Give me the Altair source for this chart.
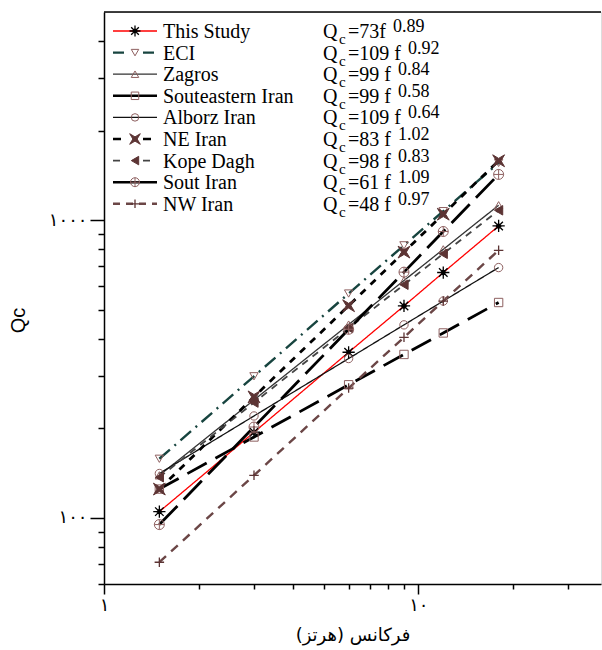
import altair as alt
import pandas as pd

# ---------------- data ----------------
freqs = [1.5, 3, 6, 9, 12, 18]
names = ["This Study", "ECI", "Zagros", "Souteastern Iran", "Alborz Iran",
         "NE Iran", "Kope Dagh", "Sout Iran", "NW Iran"]
coefs = ["73", "109", "99", "99", "109", "83", "98", "61", "48"]
exps = ["0.89", "0.92", "0.84", "0.58", "0.64", "1.02", "0.83", "1.09", "0.97"]

q_this_study = [105, 194, 360, 515, 667, 956]
q_eci = [158, 299, 567, 823, 1072, 1557]
q_zagros = [139, 249, 446, 627, 798, 1122]
q_southeast = [125, 187, 280, 354, 418, 529]
q_alborz = [141, 220, 343, 445, 535, 693]
q_ne_iran = [125, 255, 516, 781, 1047, 1583]
q_kope_dagh = [137, 244, 434, 607, 771, 1079]
q_sout_iran = [95, 202, 430, 669, 916, 1424]
q_nw_iran = [71, 139, 273, 404, 535, 792]
series_values = [q_this_study, q_eci, q_zagros, q_southeast, q_alborz,
                 q_ne_iran, q_kope_dagh, q_sout_iran, q_nw_iran]

x_tick_labels = {1: "۱", 10: "۱۰"}
y_tick_labels = {100: "۱۰۰", 1000: "۱۰۰۰"}
x_title = "فرکانس (هرتز)"
y_title = "Qc"

# ---------------- styles ----------------
W, H = 497, 572
OPEN = "#8e6060"
FILLED = "#5c3434"
ASTERISK = ("M0,-1L0,1M-1,0L1,0M-0.7,-0.7L0.7,0.7M-0.7,0.7L0.7,-0.7"
            "M0,-0.45L0.15,-0.15L0.45,0L0.15,0.15L0,0.45L-0.15,0.15L-0.45,0L-0.15,-0.15Z")
XSHAPE = "M-1,-1L0,-0.4L1,-1L0.4,0L1,1L0,0.4L-1,1L-0.4,0Z"
OPLUS = "M-1,0A1,1,0,1,1,1,0A1,1,0,1,1,-1,0M0,-1L0,1M-1,0L1,0"
PLUS = "M0,-1L0,1M-1,0L1,0"

styles = [
    dict(line="#ff0000", w=1.3, dash=[1, 0], ldash=[1, 0], shape=ASTERISK, fill="#000000", stroke="#000000", size=150, sw=1.3),
    dict(line="#17443f", w=2.4, dash=[14, 6, 2, 6], ldash=[11, 19], shape="triangle-down", fill="transparent", stroke=OPEN, size=70, sw=1),
    dict(line="#333333", w=1.3, dash=[1, 0], ldash=[1, 0], shape="triangle-up", fill="transparent", stroke=OPEN, size=70, sw=1),
    dict(line="#000000", w=2.8, dash=[22, 10], ldash=[1, 0], shape="square", fill="transparent", stroke=OPEN, size=70, sw=1),
    dict(line="#111111", w=1.3, dash=[1, 0], ldash=[1, 0], shape="circle", fill="transparent", stroke=OPEN, size=70, sw=1),
    dict(line="#000000", w=2.8, dash=[7, 7], ldash=[8, 22], shape=XSHAPE, fill=FILLED, stroke=FILLED, size=140, sw=1),
    dict(line="#444444", w=1.8, dash=[7, 6], ldash=[7, 23], shape="triangle-left", fill=FILLED, stroke=FILLED, size=90, sw=1),
    dict(line="#000000", w=2.8, dash=[26, 9], ldash=[1, 0], shape=OPLUS, fill="transparent", stroke=OPEN, size=100, sw=1),
    dict(line="#6b4646", w=2.4, dash=[9, 7], ldash=[7, 6], shape=PLUS, fill="transparent", stroke=FILLED, size=90, sw=1.3),
]

# ---------------- axes ----------------
x_vals = [1, 2, 3, 4, 5, 6, 7, 8, 9, 10, 20, 30]
y_vals = [60, 70, 80, 90, 100, 200, 300, 400, 500, 600, 700, 800, 900, 1000, 2000, 3000, 4000]


def label_expr(mapping):
    expr = "''"
    for k, v in mapping.items():
        expr = f"datum.value == {k} ? '{v}' : ({expr})"
    return expr


def major_test(mapping):
    return " || ".join(f"datum.value == {k}" for k in mapping)


x_axis = alt.Axis(
    values=x_vals, labelExpr=label_expr(x_tick_labels),
    tickSize={"condition": {"test": major_test(x_tick_labels), "value": 10}, "value": 5},
    labelFont="DejaVu Sans", labelFontSize=18, labelPadding=2, labelOverlap=False,
    labelFlush=False, labelColor="black",
    title=x_title, titleFont="DejaVu Sans", titleFontSize=18, titleFontWeight="normal",
    titleColor="black", titleY=51, titleBaseline="middle",
    domainColor="black", domainWidth=1.5, tickColor="black", tickWidth=1.5, grid=False,
)
y_axis = alt.Axis(
    values=y_vals, labelExpr=label_expr(y_tick_labels),
    tickSize={"condition": {"test": major_test(y_tick_labels), "value": 14}, "value": 6},
    labelFont="DejaVu Sans", labelFontSize=18, labelPadding=3, labelOverlap=False,
    labelFlush=False, labelColor="black",
    title=y_title, titleFont="Liberation Sans", titleFontSize=20, titleFontWeight="normal",
    titleColor="black", titleX=-86, titleY=308, titleAngle=270, titleAlign="center",
    titleBaseline="middle",
    domainColor="black", domainWidth=1.5, tickColor="black", tickWidth=1.5, grid=False,
)

X = alt.X("f:Q", scale=alt.Scale(type="log", domain=[1, 38.1]), axis=x_axis)
Y = alt.Y("q:Q", scale=alt.Scale(type="log", domain=[60, 5000]), axis=y_axis)

# ---------------- layers ----------------
line_layers, point_layers, legend_layers = [], [], []
ROW0, ROWH = 19, 21.6
for i, (name, vals, st) in enumerate(zip(names, series_values, styles)):
    df = pd.DataFrame({"f": freqs, "q": vals, "name": name})
    line_layers.append(
        alt.Chart(df).mark_line(color=st["line"], strokeWidth=st["w"], strokeDash=st["dash"])
        .encode(x=X, y=Y, order="f:Q")
    )
    point_layers.append(
        alt.Chart(df).mark_point(shape=st["shape"], fill=st["fill"], stroke=st["stroke"],
                                 size=st["size"], strokeWidth=st["sw"], opacity=1)
        .encode(x=X, y=Y)
    )
    # legend row
    py = ROW0 + ROWH * i
    ld = pd.DataFrame({"name": [name], "eq": ["=" + coefs[i] + ("f" if i == 0 else " f")],
                       "exp": [exps[i]]})
    legend_layers.append(
        alt.Chart(ld).mark_rule(color=st["line"], strokeWidth=min(st["w"], 2.6), strokeDash=st["ldash"])
        .encode(x=alt.value(9), x2=alt.value(53), y=alt.value(py))
    )
    legend_layers.append(
        alt.Chart(ld).mark_point(shape=st["shape"], fill=st["fill"], stroke=st["stroke"],
                                 size=st["size"] * 0.8, strokeWidth=st["sw"], opacity=1)
        .encode(x=alt.value(31), y=alt.value(py))
    )
    legend_layers.append(
        alt.Chart(ld).mark_text(align="left", baseline="alphabetic", font="Liberation Serif",
                                fontSize=20, color="black")
        .encode(x=alt.value(59), y=alt.value(py + 7), text="name:N")
    )
    legend_layers.append(
        alt.Chart(ld).mark_text(align="left", baseline="alphabetic", font="Liberation Serif",
                                fontSize=20, color="black")
        .encode(x=alt.value(219), y=alt.value(py + 7), text=alt.value("Q"))
    )
    legend_layers.append(
        alt.Chart(ld).mark_text(align="left", baseline="alphabetic", font="Liberation Serif",
                                fontSize=15, color="black")
        .encode(x=alt.value(235), y=alt.value(py + 13), text=alt.value("c"))
    )
    legend_layers.append(
        alt.Chart(ld).mark_text(align="left", baseline="alphabetic", font="Liberation Serif",
                                fontSize=20, color="black")
        .encode(x=alt.value(244), y=alt.value(py + 7), text="eq:N")
    )
    eq_txt = ld["eq"][0]
    widths = {"=": 0.564, " ": 0.25, "f": 0.333}
    eq_w = sum(widths.get(c, 0.5) for c in eq_txt) * 20
    legend_layers.append(
        alt.Chart(ld).mark_text(align="left", baseline="alphabetic", font="Liberation Serif",
                                fontSize=18, color="black")
        .encode(x=alt.value(244 + eq_w + 7), y=alt.value(py + 1), text="exp:N")
    )

frame_df = pd.DataFrame({"k": [0]})
top_frame = alt.Chart(frame_df).mark_rule(color="black", strokeWidth=1.5).encode(
    x=alt.value(0), x2=alt.value(W), y=alt.value(0))

chart = alt.layer(*line_layers, *point_layers, *legend_layers, top_frame).properties(
    width=W, height=H,
    autosize=alt.AutoSizeParams(type="none"),
    padding={"left": 104, "top": 12, "right": 1, "bottom": 66},
).configure_view(stroke=None).configure(background="white")

chart.save("out.html", embed_options={"renderer": "svg", "actions": False})
